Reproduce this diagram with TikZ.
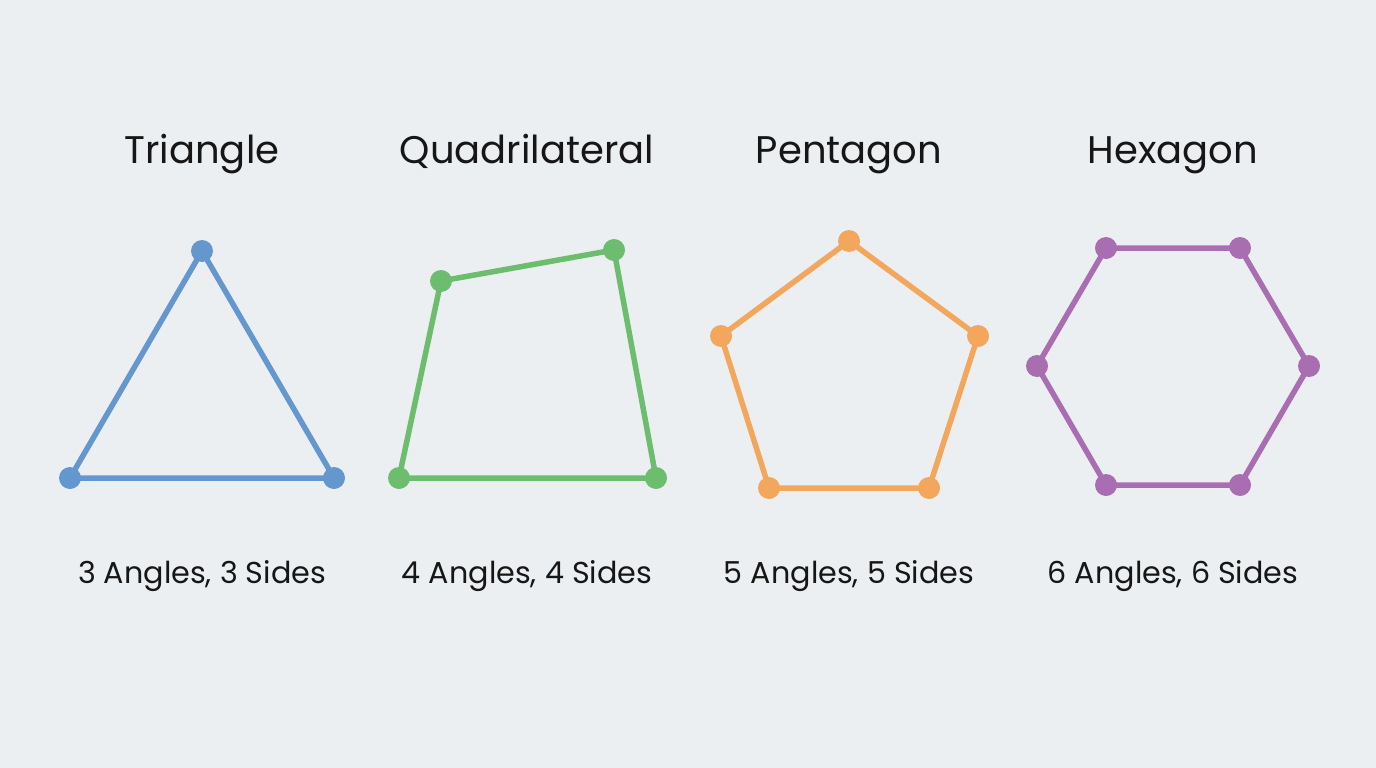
\documentclass[tikz,border=0pt]{standalone}
\usepackage{fontspec}
\setmainfont{Poppins}
\definecolor{bg}{HTML}{EBEFF1}
\definecolor{cblue}{HTML}{6497CE}
\definecolor{cgreen}{HTML}{6CBD6E}
\definecolor{corange}{HTML}{F2A75C}
\definecolor{cpurple}{HTML}{A96EB1}
\definecolor{ink}{HTML}{161616}
\tikzset{
  edge/.style={line width=5.5pt, line join=round},
  vtx/.style={circle, fill=#1, inner sep=0pt, minimum size=22pt},
  title/.style={text=ink, font=\fontsize{38.5}{46}\selectfont, anchor=base},
  caption/.style={text=ink, font=\fontsize{30.2}{36}\selectfont, anchor=base},
}
\begin{document}
\begin{tikzpicture}[x=1pt,y=-1pt]
\fill[bg] (0,0) rectangle (1376,768);
\useasboundingbox (0,0) rectangle (1376,768);
% titles
\node[title] (t1) at (202,163) {Triangle};
\node[title] (t2) at (527,163) {Quadrilateral};
\node[title] (t3) at (849,163) {Pentagon};
\node[title] (t4) at (1173,163) {Hexagon};
% captions
\node[caption] (c1) at (202,583) {3 Angles, 3 Sides};
\node[caption] (c2) at (527,583) {4 Angles, 4 Sides};
\node[caption] (c3) at (849,583) {5 Angles, 5 Sides};
\node[caption] (c4) at (1173,583) {6 Angles, 6 Sides};
% triangle
\coordinate (a1) at (202,251);
\coordinate (a2) at (334,478);
\coordinate (a3) at (70,478);
\draw[edge, cblue] (a1) -- (a2) -- (a3) -- cycle;
\foreach \p in {a1,a2,a3} \node[vtx=cblue] at (\p) {};
% quadrilateral
\coordinate (b1) at (441,281);
\coordinate (b2) at (614,250);
\coordinate (b3) at (656,478);
\coordinate (b4) at (399,478);
\draw[edge, cgreen] (b1) -- (b2) -- (b3) -- (b4) -- cycle;
\foreach \p in {b1,b2,b3,b4} \node[vtx=cgreen] at (\p) {};
% pentagon
\coordinate (p1) at (849,241);
\coordinate (p2) at (978,336);
\coordinate (p3) at (929,488);
\coordinate (p4) at (769,488);
\coordinate (p5) at (721,336);
\draw[edge, corange] (p1) -- (p2) -- (p3) -- (p4) -- (p5) -- cycle;
\foreach \p in {p1,p2,p3,p4,p5} \node[vtx=corange] at (\p) {};
% hexagon
\coordinate (h1) at (1106,248);
\coordinate (h2) at (1240,248);
\coordinate (h3) at (1309,366);
\coordinate (h4) at (1240,485);
\coordinate (h5) at (1106,485);
\coordinate (h6) at (1037,366);
\draw[edge, cpurple] (h1) -- (h2) -- (h3) -- (h4) -- (h5) -- (h6) -- cycle;
\foreach \p in {h1,h2,h3,h4,h5,h6} \node[vtx=cpurple] at (\p) {};
\end{tikzpicture}
\end{document}
